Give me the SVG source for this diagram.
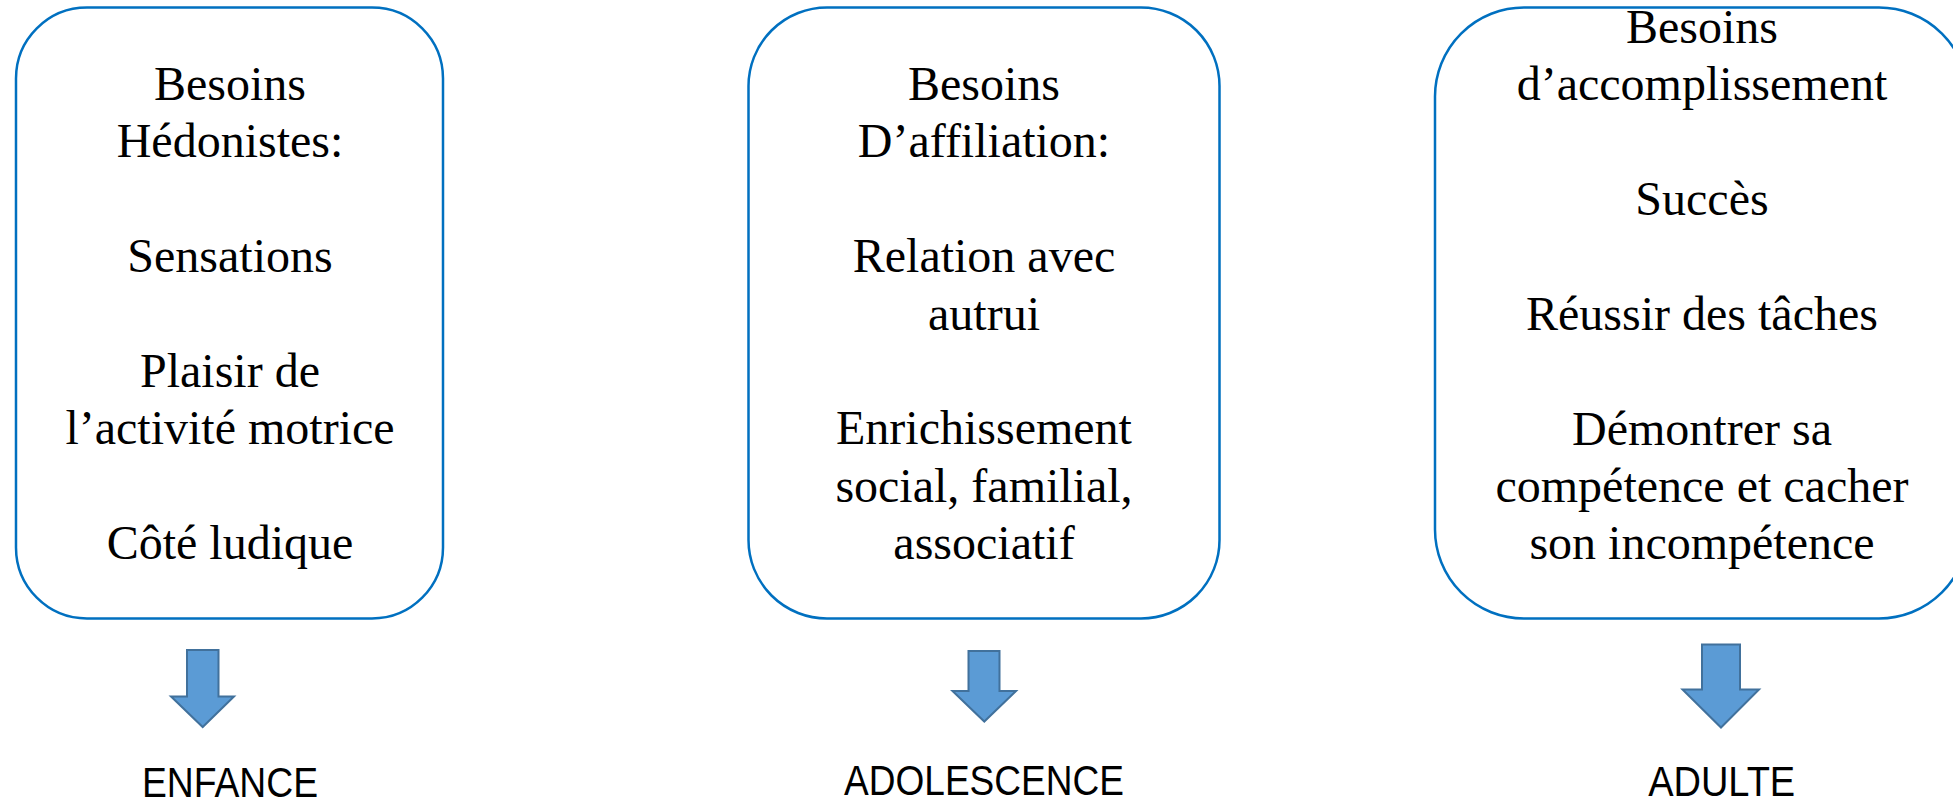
<svg xmlns="http://www.w3.org/2000/svg" width="1953" height="806" viewBox="0 0 1953 806">
<style>
.box{fill:#ffffff;stroke:#0070C0;stroke-width:2.5}
.t{font-family:"Liberation Serif","Times New Roman",serif;font-size:48px;fill:#000;text-anchor:middle}
.lab{font-family:"Liberation Sans",Arial,sans-serif;font-size:42px;fill:#000;text-anchor:middle}
.arr{fill:#5B9BD5;stroke:#41719C;stroke-width:2;stroke-linejoin:miter}
</style>
<rect width="1953" height="806" fill="#ffffff"/>
<g id="node-enfance">
<rect class="box" x="16" y="7.5" width="427" height="611" rx="71" ry="71"/>
<text class="t" x="230"><tspan x="230" y="100">Besoins</tspan><tspan x="230" y="157.4">Hédonistes:</tspan><tspan x="230" y="272.2">Sensations</tspan><tspan x="230" y="387">Plaisir de</tspan><tspan x="230" y="444.4">l’activité motrice</tspan><tspan x="230" y="559.2">Côté ludique</tspan></text>
</g>
<g id="node-adolescence">
<rect class="box" x="748.5" y="7.5" width="471" height="611" rx="78.5" ry="78.5"/>
<text class="t" x="984"><tspan x="984" y="100">Besoins</tspan><tspan x="984" y="157.4">D’affiliation:</tspan><tspan x="984" y="272.2">Relation avec</tspan><tspan x="984" y="329.6">autrui</tspan><tspan x="984" y="444.4">Enrichissement</tspan><tspan x="984" y="501.8">social, familial,</tspan><tspan x="984" y="559.2">associatif</tspan></text>
</g>
<g id="node-adulte">
<rect class="box" x="1435" y="7.5" width="533" height="611" rx="89" ry="89"/>
<text class="t" x="1702"><tspan x="1702" y="42.7">Besoins</tspan><tspan x="1702" y="100.1">d’accomplissement</tspan><tspan x="1702" y="214.9">Succès</tspan><tspan x="1702" y="329.7">Réussir des tâches</tspan><tspan x="1702" y="444.5">Démontrer sa</tspan><tspan x="1702" y="501.9">compétence et cacher</tspan><tspan x="1702" y="559.3">son incompétence</tspan></text>
</g>
<g id="connectors">
<polygon class="arr" points="187,650 218.5,650 218.5,696.5 234,696.5 202.7,727 171,696.5 187,696.5"/>
<polygon class="arr" points="968.5,651 999.5,651 999.5,691 1016,691 984.3,721.5 952.5,691 968.5,691"/>
<polygon class="arr" points="1702,644.5 1740,644.5 1740,689.5 1759,689.5 1721,727.5 1682.5,689.5 1702,689.5"/>
</g>
<g id="label-enfance"><text class="lab" x="230" y="797" textLength="176" lengthAdjust="spacingAndGlyphs">ENFANCE</text></g>
<g id="label-adolescence"><text class="lab" x="984" y="795" textLength="280" lengthAdjust="spacingAndGlyphs">ADOLESCENCE</text></g>
<g id="label-adulte"><text class="lab" x="1721.7" y="796" textLength="147" lengthAdjust="spacingAndGlyphs">ADULTE</text></g>
</svg>
